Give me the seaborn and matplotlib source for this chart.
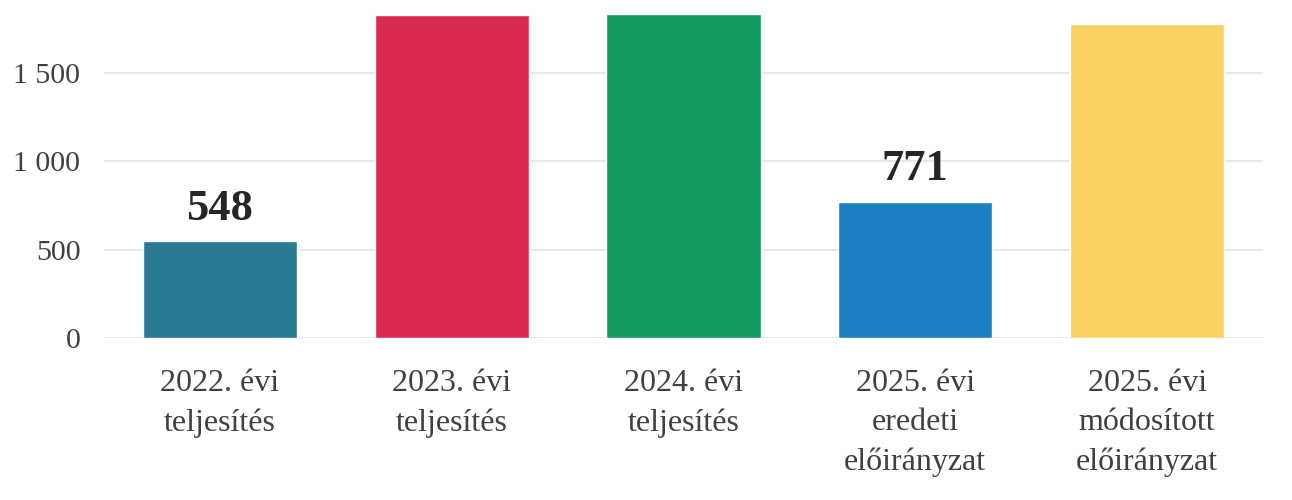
import matplotlib
matplotlib.use("Agg")
import matplotlib.pyplot as plt
import seaborn as sns
import pandas as pd
from matplotlib.ticker import FuncFormatter

categories = ["2022. évi\nteljesítés", "2023. évi\nteljesítés", "2024. évi\nteljesítés",
              "2025. évi\neredeti\nelőirányzat", "2025. évi\nmódosított\nelőirányzat"]
values = [548, 1828, 1834, 771, 1777]
shown_labels = ["548", None, None, "771", None]
colors = ["#2a7a94", "#d92a52", "#149a5e", "#1b80c2", "#fad062"]
yticks = [0, 500, 1000, 1500]

sns.set_theme(style="white")
plt.rcParams["font.family"] = ["Liberation Serif", "DejaVu Serif"]

df = pd.DataFrame({"cat": categories, "val": values})

fig = plt.figure(figsize=(12.92, 5.0), dpi=100)
ax = fig.add_axes([104 / 1292, (500 - 338) / 500, (1263 - 104) / 1292, 338 / 500])

sns.barplot(data=df, x="cat", y="val", hue="cat", palette=colors, legend=False,
            width=0.665, saturation=1, ax=ax, zorder=3)

ax.set_ylim(0, 1913)
ax.set_xlim(-0.5, 4.5)
ax.set_yticks(yticks)
ax.yaxis.set_major_formatter(FuncFormatter(lambda v, p: f"{int(v):,}".replace(",", " ")))
ax.grid(axis="y", color="#e4e4e4", linewidth=1.2, zorder=0)
ax.set_axisbelow(True)
for s in ax.spines.values():
    s.set_visible(False)
ax.set_xlabel("")
ax.set_ylabel("")
ax.tick_params(axis="y", length=0, pad=17, labelsize=21.5, labelcolor="#404040")
ax.tick_params(axis="x", length=0, pad=22.5, labelsize=23, labelcolor="#404040")
for lab in ax.get_xticklabels():
    lab.set_linespacing(1.45)

for i, (v, t) in enumerate(zip(values, shown_labels)):
    if t:
        ax.annotate(t, (i, v), xytext=(0, 9), textcoords="offset points",
                    ha="center", va="bottom", fontsize=32, fontweight="bold",
                    color="#262626")

fig.savefig("out.png", dpi=100, facecolor="white")
